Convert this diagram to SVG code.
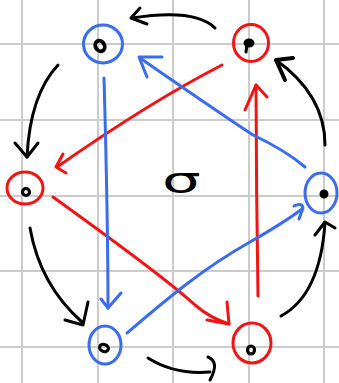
<svg xmlns="http://www.w3.org/2000/svg" width="339" height="383" viewBox="0 0 339 383">
<style>
.grid line{stroke:#cccccc;stroke-width:2}
.s{fill:none;stroke-width:3;stroke-linecap:round;stroke-linejoin:round}
.r{stroke:#f21414}
.b{stroke:#3a6cf0}
.k{stroke:#000}
.ring{fill:none;stroke-width:3}
.dot{fill:none;stroke:#000;stroke-width:3.2}
.fd{fill:#000;stroke:#000;stroke-width:2}
.lbl{font-family:"DejaVu Sans",sans-serif;font-size:36px;fill:#000}
</style>
<rect width="339" height="383" fill="#fff"/>
<g class="grid">
<line x1="22" y1="0" x2="22" y2="383"/>
<line x1="98" y1="0" x2="98" y2="383"/>
<line x1="173" y1="0" x2="173" y2="383"/>
<line x1="249" y1="0" x2="249" y2="383"/>
<line x1="324" y1="0" x2="324" y2="383"/>
<line x1="0" y1="44" x2="339" y2="44"/>
<line x1="0" y1="120" x2="339" y2="120"/>
<line x1="0" y1="196" x2="339" y2="196"/>
<line x1="0" y1="271" x2="339" y2="271"/>
<line x1="0" y1="347" x2="339" y2="347"/>
</g>
<g id="connectors">
<path class="s r" d="M222,65 Q150,102 57,167"/>
<path class="s r" d="M63,154 L56,167 L66,173"/>
<path class="s r" d="M53,197 C110,238 170,282 195,305 Q210,318 229,324"/>
<path class="s r" d="M227,302 L229,324 L207,320"/>
<path class="s r" d="M258,296 C257,230 256,150 256,85"/>
<path class="s r" d="M245,110 L256,85 L267,97"/>
<path class="s b" d="M104,78 C106,150 108,250 108,308"/>
<path class="s b" d="M101,299 L108,308 L121,293"/>
<path class="s b" d="M127,333 C160,305 200,270 250,242 Q285,222 302,209"/>
<path class="s b" d="M294,206 Q302,202 303,208 L299,219"/>
<path class="s b" d="M305,167 Q285,150 253,135 Q215,110 140,58"/>
<path class="s b" d="M147,77 L139,57 L162,57"/>
<path class="s k" d="M215,28 Q195,8 132,18"/>
<path class="s k" d="M140,8 L131,18 L147,24"/>
<path class="s k" d="M58,65 Q30,95 27,157"/>
<path class="s k" d="M15,143 L27,157 L38,143"/>
<path class="s k" d="M30,228 Q40,285 82,322"/>
<path class="s k" d="M65,320 L83,325 L88,302"/>
<path class="s k" d="M148,358 Q175,375 210,372"/>
<path class="s k" d="M208,357 Q220,362 210,380"/>
<path class="s k" d="M281,316 Q320,295 325,223"/>
<path class="s k" d="M315,235 L325,222 L335,228"/>
<path class="s k" d="M325,145 Q325,95 276,60"/>
<path class="s k" style="stroke-width:4" d="M285,80 L276,60 L293,58"/>
</g>
<g id="n-top-left">
<ellipse class="ring b" cx="103" cy="44" rx="19.5" ry="19"/>
<ellipse class="dot" cx="100" cy="46" rx="4.5" ry="5.5" style="stroke-width:3.8" transform="rotate(-30 100 46)"/>
</g>
<g id="n-top-right">
<ellipse class="ring r" cx="251" cy="43" rx="17.5" ry="18.5"/>
<ellipse class="fd" cx="249" cy="43" rx="4.5" ry="3.5"/>
<path class="s k" d="M247,44 L246,52"/>
</g>
<g id="n-left">
<ellipse class="ring r" cx="25" cy="188" rx="18" ry="16"/>
<circle class="dot" cx="26" cy="192" r="3.5"/>
</g>
<g id="n-right">
<ellipse class="ring b" cx="321" cy="193" rx="16" ry="20"/>
<ellipse class="fd" cx="324" cy="194" rx="3.5" ry="3.5"/>
</g>
<g id="n-bottom-left">
<ellipse class="ring b" cx="105" cy="345" rx="16" ry="19"/>
<ellipse class="dot" cx="104" cy="348" rx="4.5" ry="3.5" transform="rotate(20 104 348)"/>
</g>
<g id="n-bottom-right">
<ellipse class="ring r" cx="252" cy="343" rx="19" ry="20"/>
<ellipse class="dot" cx="251" cy="350" rx="3.5" ry="4"/>
</g>
<g id="label">
<text class="lbl" x="162" y="193" transform="translate(162 0) scale(1.7 1) translate(-162 0)">σ</text>
</g>
</svg>
